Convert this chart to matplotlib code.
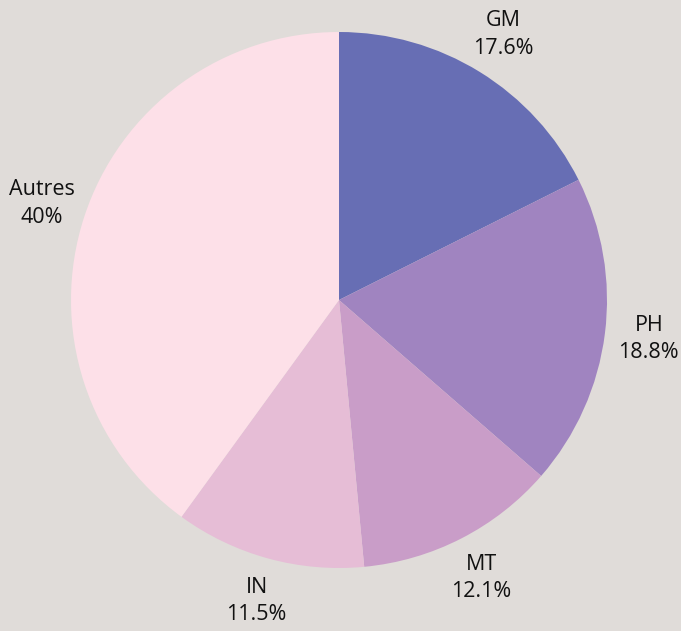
import matplotlib.pyplot as plt

# Data
labels = ['GM', 'PH', 'MT', 'IN', 'Autres']
shares = [17.6, 18.8, 12.1, 11.5, 40]
pct_text = ['17.6%', '18.8%', '12.1%', '11.5%', '40%']
colors = ['#676EB4', '#A084C0', '#C99DC8', '#E6BDD6', '#FDE0E8']
bg = '#E0DCD9'

plt.rcParams['font.family'] = ['Open Sans', 'DejaVu Sans']

W, H = 681, 631
fig = plt.figure(figsize=(W / 100, H / 100), dpi=100, facecolor=bg)

# pie centre and radius in pixels
cx, cy, r = 339, 300, 268
ax = fig.add_axes([(cx - r) / W, (H - cy - r) / H, 2 * r / W, 2 * r / H])
ax.set_facecolor(bg)

names = ['{0}\n{1}'.format(l, p) for l, p in zip(labels, pct_text)]
wedges, texts = ax.pie(shares, labels=names, colors=colors, startangle=90,
                       counterclock=False, labeldistance=1.165,
                       wedgeprops=dict(linewidth=0),
                       textprops=dict(fontsize=15.5, color='#111111', linespacing=1.4))
for t in texts:
    t.set_ha('center')
    t.set_va('center')
    t.set_clip_on(False)

ax.set_xlim(-1, 1)
ax.set_ylim(-1, 1)
ax.set_aspect('equal')
ax.axis('off')

plt.savefig('out.png', dpi=100, facecolor=bg)
